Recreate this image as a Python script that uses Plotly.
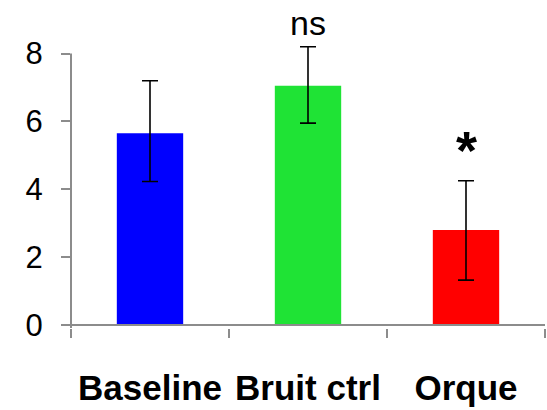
import plotly.graph_objects as go

categories = ["Baseline", "Bruit ctrl", "Orque"]
means = [5.65, 7.05, 2.80]
err_plus = [1.55, 1.15, 1.45]
err_minus = [1.42, 1.10, 1.48]
bar_colors = ["#0000FF", "#1FE335", "#FF0000"]
sig_labels = ["", "ns", "*"]
y_ticks = [0, 2, 4, 6, 8]
y_axis_max = 8

AXIS_GRAY = "#8C8C8C"
FONT = "Liberation Sans, Arial, sans-serif"

fig = go.Figure()
fig.add_trace(go.Bar(
    x=categories,
    y=means,
    marker=dict(color=bar_colors, line=dict(width=0)),
    error_y=dict(type="data", symmetric=False, array=err_plus, arrayminus=err_minus,
                 color="black", thickness=1.6, width=8),
    showlegend=False,
))

for cat, m, ep, lab in zip(categories, means, err_plus, sig_labels):
    if not lab:
        continue
    bold = lab == "*"
    fig.add_annotation(
        x=cat, y=m + ep, xref="x", yref="y",
        text=f"<b>{lab}</b>" if bold else lab,
        showarrow=False, yanchor="middle", yshift=31 if bold else 24,
        font=dict(family=FONT, size=54 if bold else 34, color="black"),
    )

# zero line drawn over the bars
fig.add_shape(type="line", xref="paper", yref="y", x0=0, x1=1, y0=0, y1=0,
              line=dict(color=AXIS_GRAY, width=2), layer="above")
# value axis line, from the bottom up to the top tick
fig.add_shape(type="line", xref="paper", yref="y", x0=0, x1=0, y0=-0.09, y1=y_axis_max,
              line=dict(color=AXIS_GRAY, width=2), layer="above")

fig.update_layout(
    width=547, height=410,
    margin=dict(l=71, r=2, t=1, b=82),
    paper_bgcolor="white", plot_bgcolor="white",
    bargap=0.58,
    font=dict(family=FONT, color="black"),
    xaxis=dict(
        showline=False, showgrid=False, zeroline=False,
        ticks="outside", ticklen=9, tickwidth=2, tickcolor=AXIS_GRAY,
        tickson="boundaries", tickangle=0, automargin=False,
        tickfont=dict(family=FONT, size=35, color="black"),
        tickprefix="<b>", ticksuffix="</b>",
        ticklabelstandoff=36,
    ),
    yaxis=dict(
        range=[-0.09, 9.55], tickvals=y_ticks, automargin=False,
        showline=False, showgrid=False, zeroline=False,
        ticks="outside", ticklen=9, tickwidth=2, tickcolor=AXIS_GRAY,
        tickfont=dict(family=FONT, size=31, color="black"),
        ticklabelstandoff=12,
    ),
)

fig.write_html("out.html")
